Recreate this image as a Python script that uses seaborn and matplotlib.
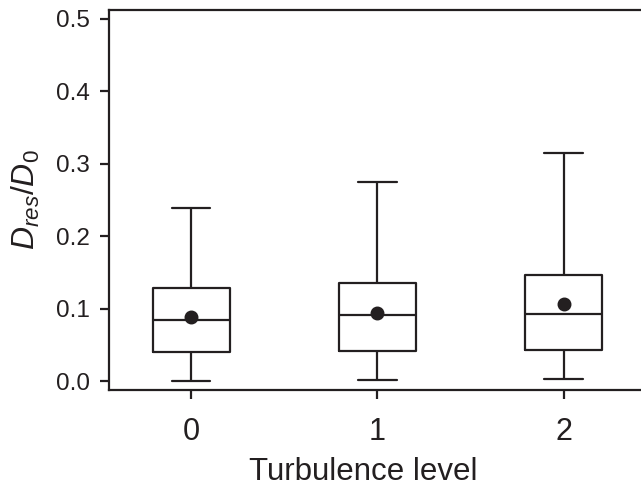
import numpy as np
import pandas as pd
import matplotlib
matplotlib.use("Agg")
import matplotlib.pyplot as plt
import seaborn as sns

# turbulence levels and five-number summaries
levels = ["0", "1", "2"]
whisk_lo = [0.000, 0.001, 0.003]
q1 = [0.040, 0.041, 0.043]
medians = [0.084, 0.091, 0.093]
q3 = [0.128, 0.135, 0.146]
whisk_hi = [0.239, 0.275, 0.314]
means = [0.088, 0.094, 0.106]

ink = "#231f20"

sns.set_style("white")
plt.rcParams["font.family"] = ["Liberation Sans", "DejaVu Sans"]
plt.rcParams["mathtext.fontset"] = "custom"
plt.rcParams["mathtext.rm"] = "Liberation Sans"
plt.rcParams["mathtext.it"] = "Liberation Sans:italic"

rows = []
for i, lev in enumerate(levels):
    for v in (whisk_lo[i], q1[i], medians[i], q3[i], whisk_hi[i]):
        rows.append({"level": lev, "ratio": v})
df = pd.DataFrame(rows)

fig = plt.figure(figsize=(6.41, 4.90), dpi=100)
ax = fig.add_axes([0.170, 0.204, 0.834, 0.776])

line_kw = dict(color=ink, linewidth=1.6)
sns.boxplot(data=df, x="level", y="ratio", order=levels, whis=(0, 100),
            width=0.41, fill=False, color=ink, linewidth=1.6,
            showfliers=False, ax=ax,
            boxprops=line_kw, whiskerprops=line_kw, capprops=line_kw,
            medianprops=line_kw)
sns.pointplot(x=levels, y=means, order=levels, linestyle="none", marker="o",
              color=ink, markersize=8, errorbar=None, ax=ax)

ax.set_xlim(-0.443, 2.43)
ax.set_ylim(-0.0124, 0.512)
ax.set_yticks([0.0, 0.1, 0.2, 0.3, 0.4, 0.5])
ax.set_yticklabels(["0.0", "0.1", "0.2", "0.3", "0.4", "0.5"])

for s in ax.spines.values():
    s.set_color(ink)
    s.set_linewidth(1.6)
ax.tick_params(axis="both", direction="out", length=6.5, width=1.6,
               color=ink, labelcolor=ink)
ax.tick_params(axis="y", labelsize=17.5, pad=7)
ax.tick_params(axis="x", labelsize=22, pad=13)
ax.tick_params(top=False, right=False, left=True, bottom=True)

ax.set_xlabel("Turbulence level", fontsize=22.5, color=ink)
ax.set_ylabel(r"$D_{res}/D_0$", fontsize=23, color=ink)
ax.xaxis.set_label_coords(0.475, -0.175)
ax.yaxis.set_label_coords(-0.125, 0.5)

fig.savefig("out.png", dpi=100)
